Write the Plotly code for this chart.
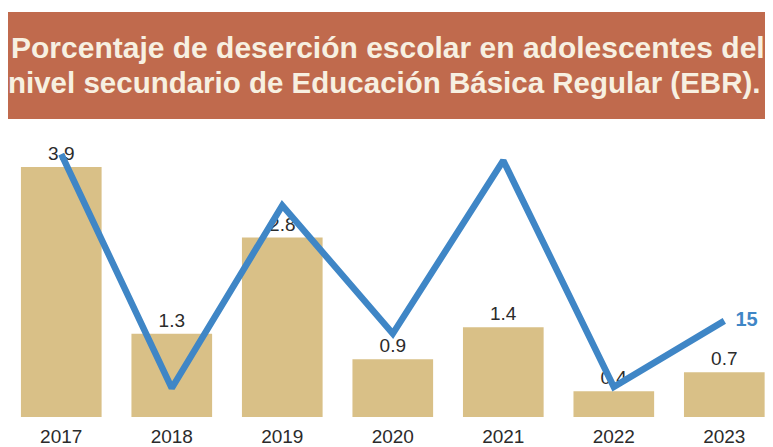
import plotly.graph_objects as go

years = ['2017', '2018', '2019', '2020', '2021', '2022', '2023']
bar_values = [3.9, 1.3, 2.8, 0.9, 1.4, 0.4, 0.7]
line_values = [4.1, 0.45, 3.3, 1.3, 4.0, 0.47, 1.5]
line_labels = ['', '', '', '', '', '', '&nbsp;&nbsp;<b>15</b>']

title_line1 = 'Porcentaje de deserción escolar en adolescentes del'
title_line2 = 'nivel secundario de Educación Básica Regular (EBR).'

fig = go.Figure()
fig.add_trace(go.Bar(x=years, y=bar_values,
                     text=[f'{v:.1f}' for v in bar_values],
                     textposition='outside',
                     textfont=dict(size=19, color='#2b2b2b'),
                     cliponaxis=False,
                     marker=dict(color='#d9c087', line=dict(width=0))))
fig.add_trace(go.Scatter(x=years, y=line_values, mode='lines+text',
                         text=line_labels, textposition='middle right',
                         textfont=dict(size=20, color='#3f86c6', family='Liberation Sans, Arial'),
                         line=dict(color='#3f86c6', width=6.5),
                         cliponaxis=False))

# title banner
fig.add_shape(type='rect', xref='paper', yref='paper',
              x0=-0.004, x1=1.0, y0=1.038, y1=1.411,
              fillcolor='#c06a4d', line=dict(width=0), layer='below')
fig.add_annotation(text='<b>' + title_line1 + '</b>', xref='paper', yref='paper',
                   x=0.491, y=1.289, yanchor='middle', showarrow=False,
                   font=dict(size=30, color='#f7f0e1', family='Liberation Sans, Arial'))
fig.add_annotation(text='<b>' + title_line2 + '</b>', xref='paper', yref='paper',
                   x=0.487, y=1.167, yanchor='middle', showarrow=False,
                   font=dict(size=29.5, color='#f7f0e1', family='Liberation Sans, Arial'))

fig.update_layout(width=773, height=447,
                  margin=dict(l=0, r=0, t=122, b=38),
                  showlegend=False, bargap=0.27,
                  paper_bgcolor='white', plot_bgcolor='white',
                  font=dict(family='Liberation Sans, Arial', color='#2b2b2b'))
fig.update_xaxes(range=[-0.482, 6.513], showgrid=False, showline=False,
                 ticks='', ticklabelstandoff=6,
                 tickfont=dict(size=19, color='#2b2b2b'))
fig.update_yaxes(range=[0, 4.477], visible=False)

fig.write_html("out.html")
